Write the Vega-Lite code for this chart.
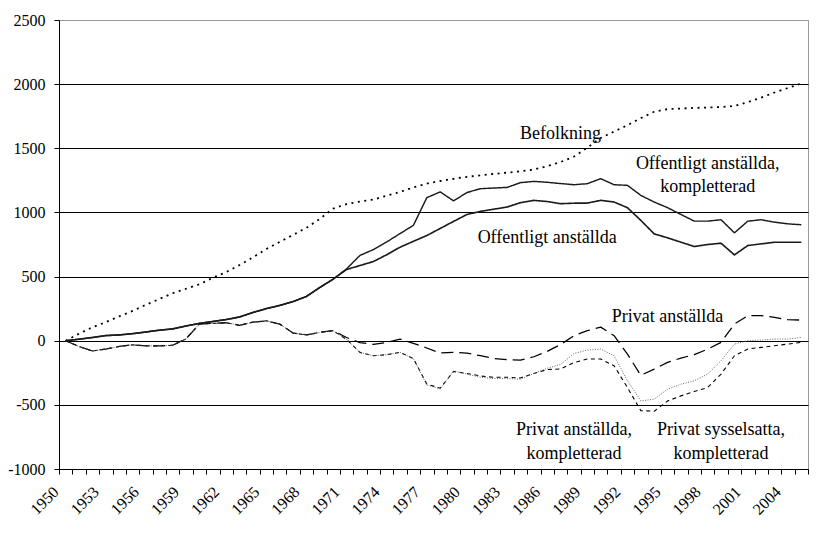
{
  "$schema": "https://vega.github.io/schema/vega-lite/v6.json",
  "width": 749,
  "height": 449,
  "autosize": {"type": "none"},
  "padding": {"left": 59, "top": 20, "right": 21, "bottom": 77},
  "background": "white",
  "config": {
    "view": {"stroke": "#9a9a9a", "strokeWidth": 1},
    "font": "Liberation Serif",
    "axis": {"labelFont": "Liberation Serif"}
  },
  "datasets": {
    "series": [
      {"year":1950,"Befolkning":0,"Offentligt":0,"OffentligtK":0,"Privat":0,"PrivatK":0,"SysselK":0},
      {"year":1951,"Befolkning":55,"Offentligt":12,"OffentligtK":12,"Privat":-45,"PrivatK":-45,"SysselK":-45},
      {"year":1952,"Befolkning":105,"Offentligt":25,"OffentligtK":25,"Privat":-80,"PrivatK":-80,"SysselK":-80},
      {"year":1953,"Befolkning":145,"Offentligt":40,"OffentligtK":40,"Privat":-65,"PrivatK":-65,"SysselK":-65},
      {"year":1954,"Befolkning":190,"Offentligt":45,"OffentligtK":45,"Privat":-45,"PrivatK":-45,"SysselK":-45},
      {"year":1955,"Befolkning":232,"Offentligt":55,"OffentligtK":55,"Privat":-32,"PrivatK":-32,"SysselK":-32},
      {"year":1956,"Befolkning":280,"Offentligt":68,"OffentligtK":68,"Privat":-40,"PrivatK":-40,"SysselK":-40},
      {"year":1957,"Befolkning":325,"Offentligt":82,"OffentligtK":82,"Privat":-40,"PrivatK":-40,"SysselK":-40},
      {"year":1958,"Befolkning":370,"Offentligt":92,"OffentligtK":92,"Privat":-35,"PrivatK":-35,"SysselK":-35},
      {"year":1959,"Befolkning":405,"Offentligt":115,"OffentligtK":115,"Privat":15,"PrivatK":15,"SysselK":15},
      {"year":1960,"Befolkning":440,"Offentligt":135,"OffentligtK":135,"Privat":130,"PrivatK":130,"SysselK":130},
      {"year":1961,"Befolkning":490,"Offentligt":150,"OffentligtK":150,"Privat":135,"PrivatK":135,"SysselK":135},
      {"year":1962,"Befolkning":535,"Offentligt":165,"OffentligtK":165,"Privat":140,"PrivatK":140,"SysselK":140},
      {"year":1963,"Befolkning":590,"Offentligt":185,"OffentligtK":185,"Privat":120,"PrivatK":120,"SysselK":120},
      {"year":1964,"Befolkning":650,"Offentligt":220,"OffentligtK":220,"Privat":145,"PrivatK":145,"SysselK":145},
      {"year":1965,"Befolkning":715,"Offentligt":250,"OffentligtK":250,"Privat":155,"PrivatK":155,"SysselK":155},
      {"year":1966,"Befolkning":770,"Offentligt":275,"OffentligtK":275,"Privat":130,"PrivatK":130,"SysselK":130},
      {"year":1967,"Befolkning":825,"Offentligt":305,"OffentligtK":305,"Privat":60,"PrivatK":60,"SysselK":60},
      {"year":1968,"Befolkning":880,"Offentligt":345,"OffentligtK":345,"Privat":45,"PrivatK":45,"SysselK":45},
      {"year":1969,"Befolkning":950,"Offentligt":415,"OffentligtK":415,"Privat":65,"PrivatK":65,"SysselK":65},
      {"year":1970,"Befolkning":1030,"Offentligt":480,"OffentligtK":480,"Privat":78,"PrivatK":78,"SysselK":78},
      {"year":1971,"Befolkning":1065,"Offentligt":555,"OffentligtK":560,"Privat":25,"PrivatK":10,"SysselK":10},
      {"year":1972,"Befolkning":1085,"Offentligt":586,"OffentligtK":665,"Privat":-15,"PrivatK":-91,"SysselK":-91},
      {"year":1973,"Befolkning":1100,"Offentligt":617,"OffentligtK":710,"Privat":-28,"PrivatK":-117,"SysselK":-117},
      {"year":1974,"Befolkning":1130,"Offentligt":670,"OffentligtK":770,"Privat":-13,"PrivatK":-109,"SysselK":-109},
      {"year":1975,"Befolkning":1160,"Offentligt":729,"OffentligtK":835,"Privat":13,"PrivatK":-91,"SysselK":-91},
      {"year":1976,"Befolkning":1195,"Offentligt":775,"OffentligtK":900,"Privat":-21,"PrivatK":-140,"SysselK":-140},
      {"year":1977,"Befolkning":1225,"Offentligt":820,"OffentligtK":1115,"Privat":-57,"PrivatK":-338,"SysselK":-345},
      {"year":1978,"Befolkning":1245,"Offentligt":875,"OffentligtK":1160,"Privat":-96,"PrivatK":-370,"SysselK":-375},
      {"year":1979,"Befolkning":1262,"Offentligt":930,"OffentligtK":1090,"Privat":-91,"PrivatK":-240,"SysselK":-235},
      {"year":1980,"Befolkning":1278,"Offentligt":984,"OffentligtK":1155,"Privat":-96,"PrivatK":-255,"SysselK":-260},
      {"year":1981,"Befolkning":1289,"Offentligt":1008,"OffentligtK":1185,"Privat":-117,"PrivatK":-275,"SysselK":-285},
      {"year":1982,"Befolkning":1300,"Offentligt":1025,"OffentligtK":1190,"Privat":-138,"PrivatK":-285,"SysselK":-295},
      {"year":1983,"Befolkning":1310,"Offentligt":1042,"OffentligtK":1195,"Privat":-148,"PrivatK":-285,"SysselK":-295},
      {"year":1984,"Befolkning":1320,"Offentligt":1076,"OffentligtK":1232,"Privat":-151,"PrivatK":-290,"SysselK":-300},
      {"year":1985,"Befolkning":1335,"Offentligt":1094,"OffentligtK":1242,"Privat":-125,"PrivatK":-255,"SysselK":-255},
      {"year":1986,"Befolkning":1360,"Offentligt":1085,"OffentligtK":1235,"Privat":-83,"PrivatK":-225,"SysselK":-215},
      {"year":1987,"Befolkning":1393,"Offentligt":1068,"OffentligtK":1225,"Privat":-30,"PrivatK":-220,"SysselK":-185},
      {"year":1988,"Befolkning":1435,"Offentligt":1072,"OffentligtK":1216,"Privat":39,"PrivatK":-170,"SysselK":-100},
      {"year":1989,"Befolkning":1505,"Offentligt":1073,"OffentligtK":1224,"Privat":78,"PrivatK":-143,"SysselK":-73},
      {"year":1990,"Befolkning":1580,"Offentligt":1094,"OffentligtK":1263,"Privat":106,"PrivatK":-143,"SysselK":-65},
      {"year":1991,"Befolkning":1630,"Offentligt":1081,"OffentligtK":1216,"Privat":39,"PrivatK":-195,"SysselK":-117},
      {"year":1992,"Befolkning":1680,"Offentligt":1037,"OffentligtK":1211,"Privat":-104,"PrivatK":-365,"SysselK":-312},
      {"year":1993,"Befolkning":1735,"Offentligt":938,"OffentligtK":1133,"Privat":-270,"PrivatK":-545,"SysselK":-469},
      {"year":1994,"Befolkning":1785,"Offentligt":833,"OffentligtK":1081,"Privat":-221,"PrivatK":-550,"SysselK":-456},
      {"year":1995,"Befolkning":1805,"Offentligt":802,"OffentligtK":1037,"Privat":-169,"PrivatK":-470,"SysselK":-378},
      {"year":1996,"Befolkning":1810,"Offentligt":768,"OffentligtK":984,"Privat":-135,"PrivatK":-430,"SysselK":-339},
      {"year":1997,"Befolkning":1815,"Offentligt":734,"OffentligtK":932,"Privat":-109,"PrivatK":-396,"SysselK":-312},
      {"year":1998,"Befolkning":1818,"Offentligt":750,"OffentligtK":932,"Privat":-65,"PrivatK":-365,"SysselK":-260},
      {"year":1999,"Befolkning":1822,"Offentligt":760,"OffentligtK":943,"Privat":-13,"PrivatK":-260,"SysselK":-156},
      {"year":2000,"Befolkning":1830,"Offentligt":669,"OffentligtK":841,"Privat":130,"PrivatK":-117,"SysselK":-26},
      {"year":2001,"Befolkning":1860,"Offentligt":742,"OffentligtK":932,"Privat":195,"PrivatK":-65,"SysselK":0},
      {"year":2002,"Befolkning":1895,"Offentligt":755,"OffentligtK":943,"Privat":195,"PrivatK":-52,"SysselK":5},
      {"year":2003,"Befolkning":1935,"Offentligt":768,"OffentligtK":924,"Privat":182,"PrivatK":-39,"SysselK":13},
      {"year":2004,"Befolkning":1970,"Offentligt":768,"OffentligtK":911,"Privat":164,"PrivatK":-26,"SysselK":13},
      {"year":2005,"Befolkning":2005,"Offentligt":768,"OffentligtK":904,"Privat":161,"PrivatK":-13,"SysselK":26}
    ],
    "labels": [
      {"year":1987,"value":1609,"text":"Befolkning"},
      {"year":1998,"value":1375,"text":"Offentligt anställda,"},
      {"year":1998,"value":1195,"text":"kompletterad"},
      {"year":1986,"value":797,"text":"Offentligt anställda"},
      {"year":1995,"value":188,"text":"Privat anställda"},
      {"year":1988,"value":-695,"text":"Privat anställda,"},
      {"year":1988,"value":-883,"text":"kompletterad"},
      {"year":1999,"value":-695,"text":"Privat sysselsatta,"},
      {"year":1999,"value":-883,"text":"kompletterad"}
    ]
  },
  "layer": [
    {
      "data": {"name": "series"},
      "transform": [
        {"fold": ["Befolkning", "Offentligt", "OffentligtK", "Privat", "PrivatK", "SysselK"], "as": ["serie", "value"]}
      ],
      "mark": {"type": "line", "strokeCap": "butt", "strokeJoin": "round"},
      "encoding": {
        "x": {
          "field": "year",
          "type": "ordinal",
          "bandPosition": 0.5,
          "scale": {"type": "band", "paddingInner": 0, "paddingOuter": 0},
          "axis": {
            "title": null,
            "tickBand": "extent",
            "grid": false,
            "domainColor": "black",
            "tickColor": "black",
            "tickSize": 5,
            "labelAngle": -45,
            "labelAlign": "right",
            "labelBaseline": "middle",
            "labelFont": "Liberation Serif",
            "labelFontSize": 16,
            "labelColor": "black",
            "labelPadding": 15,
            "labelOffset": -10,
            "labelOverlap": false,
            "labelBound": false,
            "labelFlush": false,
            "labelExpr": "(datum.value - 1950) % 3 == 0 ? '' + datum.value : ''"
          }
        },
        "y": {
          "field": "value",
          "type": "quantitative",
          "scale": {"domain": [-1000, 2500], "nice": false, "zero": false},
          "axis": {
            "title": null,
            "values": [-1000, -500, 0, 500, 1000, 1500, 2000, 2500],
            "labelExpr": "'' + datum.value",
            "grid": true,
            "gridColor": {"condition": {"test": "datum.value == 2500", "value": "#9a9a9a"}, "value": "black"},
            "gridWidth": 1,
            "domainColor": "black",
            "tickColor": "black",
            "tickSize": 5,
            "labelPadding": 9,
            "labelFont": "Liberation Serif",
            "labelFontSize": 16,
            "labelColor": "black"
          }
        },
        "strokeDash": {
          "field": "serie",
          "type": "nominal",
          "scale": {
            "domain": ["Befolkning", "Offentligt", "OffentligtK", "Privat", "PrivatK", "SysselK"],
            "range": [[2, 4.5], [1, 0], [1, 0], [12, 6], [4, 3.5], [1, 1.5]]
          },
          "legend": null
        },
        "strokeWidth": {
          "field": "serie",
          "type": "nominal",
          "scale": {
            "domain": ["Befolkning", "Offentligt", "OffentligtK", "Privat", "PrivatK", "SysselK"],
            "range": [1.8, 0.9, 0.9, 1.6, 1.6, 1]
          },
          "legend": null
        },
        "color": {
          "field": "serie",
          "type": "nominal",
          "scale": {
            "domain": ["Befolkning", "Offentligt", "OffentligtK", "Privat", "PrivatK", "SysselK"],
            "range": ["black", "#1a1a1a", "#1a1a1a", "black", "black", "#555555"]
          },
          "legend": null
        }
      }
    },
    {
      "data": {"name": "labels"},
      "mark": {"type": "text", "font": "Liberation Serif", "fontSize": 18, "align": "center", "baseline": "middle", "color": "black"},
      "encoding": {
        "x": {"field": "year", "type": "ordinal", "bandPosition": 0.5},
        "y": {"field": "value", "type": "quantitative"},
        "text": {"field": "text"}
      }
    }
  ]
}
